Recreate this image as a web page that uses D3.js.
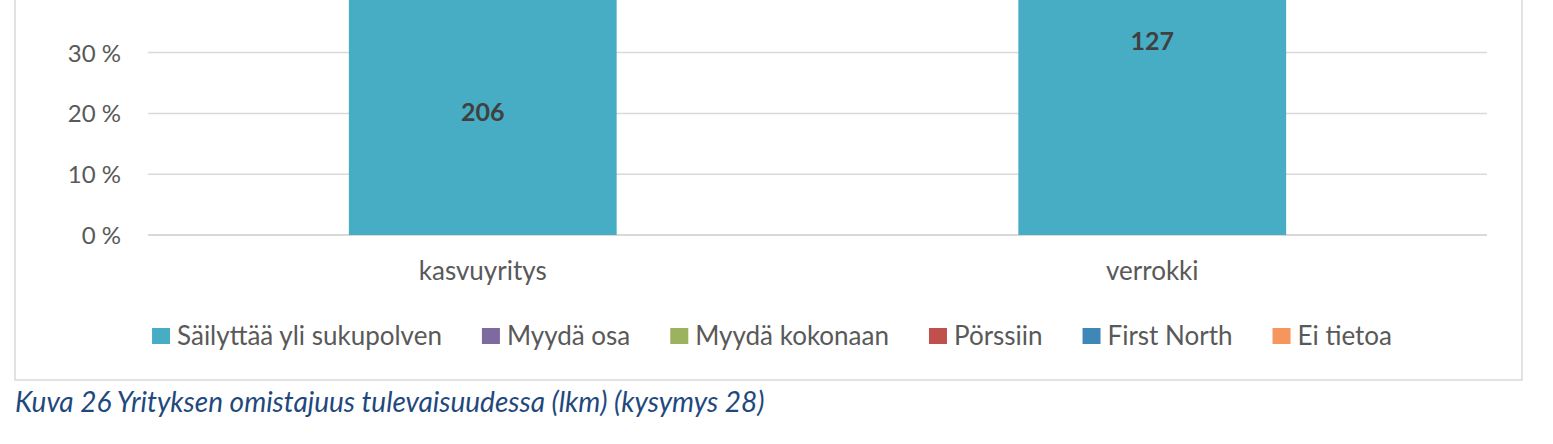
<!DOCTYPE html>
<html><head><meta charset="utf-8">
<script src="https://cdn.jsdelivr.net/npm/d3@7"></script>
<style>
html,body{margin:0;padding:0;background:#fff;}
svg{display:block;}
text{font-family:"Lato","Open Sans",sans-serif;}
</style></head>
<body>
<svg id="c" width="1553" height="444"></svg>
<script>
const categories = ["kasvuyritys", "verrokki"];
const seriesNames = ["Säilyttää yli sukupolven", "Myydä osa", "Myydä kokonaan", "Pörssiin", "First North", "Ei tietoa"];
const seriesColors = ["#46ADC4", "#7F6AA0", "#9BB25F", "#C0504D", "#3F87B6", "#F7955E"];
// counts (lkm); only the first series is visible in the cropped picture
const sailyttaa = [206, 127];
const myydaOsa = [118, 24];
const myydaKokonaan = [96, 31];
const porssiin = [22, 3];
const firstNorth = [27, 3];
const eiTietoa = [40, 11];
const yTicks = [0, 0.1, 0.2, 0.3, 0.4, 0.5, 0.6, 0.7, 0.8, 0.9, 1];
const caption = "Kuva 26 Yrityksen omistajuus tulevaisuudessa (lkm) (kysymys 28)";

const seriesValues = [sailyttaa, myydaOsa, myydaKokonaan, porssiin, firstNorth, eiTietoa];
const rows = categories.map((c, i) => {
  const r = {cat: c};
  seriesNames.forEach((s, j) => r[s] = seriesValues[j][i]);
  return r;
});
const stack = d3.stack().keys(seriesNames).offset(d3.stackOffsetExpand);
const layers = stack(rows);

const svg = d3.select("#c");
const plotL = 148, plotR = 1487, y0 = 235, per10 = 60.8;

// chart frame
svg.append("path").attr("d", `M15,-10 V380 H1522 V-10`).attr("fill", "none")
  .attr("stroke", "#D9D9D9").attr("stroke-width", 1.5);

const x = d3.scaleBand().domain(categories).range([plotL, plotR]).paddingInner(0.6).paddingOuter(0.3);
const y = d3.scaleLinear().domain([0, 1]).range([y0, y0 - per10 * 10]);
const inView = v => y(v) > 15;

// gridlines
svg.append("g").selectAll("line").data(yTicks).join("line")
  .attr("x1", plotL).attr("x2", plotR)
  .attr("y1", d => y(d)).attr("y2", d => y(d))
  .attr("stroke", "#D9D9D9").attr("stroke-width", d => d === 0 ? 2 : 1.5);

// y axis labels (only those inside the visible crop)
const yAxis = d3.axisLeft(y).tickValues(yTicks.filter(inView)).tickSize(0).tickPadding(0)
  .tickFormat(d => Math.round(d * 100) + " %");
const ya = svg.append("g").attr("transform", `translate(121,0)`).call(yAxis);
ya.select(".domain").remove();
ya.selectAll("text").attr("fill", "#595959").attr("font-size", 24).attr("dy", "0.35em")
  .attr("font-family", "Lato, sans-serif");

// bars
const gl = svg.append("g").selectAll("g").data(layers).join("g")
  .attr("fill", (d, i) => seriesColors[i]);
gl.selectAll("rect").data(d => d).join("rect")
  .attr("x", d => x(d.data.cat)).attr("width", x.bandwidth())
  .attr("y", d => y(d[1])).attr("height", d => y(d[0]) - y(d[1]));

// data labels (only those inside the visible crop)
gl.selectAll("text")
  .data(d => d.map(p => ({p, key: d.key})).filter(o => inView((o.p[0] + o.p[1]) / 2)))
  .join("text")
  .attr("x", d => x(d.p.data.cat) + x.bandwidth() / 2)
  .attr("y", d => y((d.p[0] + d.p[1]) / 2))
  .attr("dy", "0.35em").attr("text-anchor", "middle")
  .attr("fill", "#404040").attr("font-weight", "bold").attr("font-size", 25)
  .text(d => d.p.data[d.key]);

// x axis labels
const xAxis = d3.axisBottom(x).tickSize(0).tickPadding(0);
const xa = svg.append("g").attr("transform", `translate(0,${y0})`).call(xAxis);
xa.select(".domain").remove();
xa.selectAll("text").attr("fill", "#595959").attr("font-size", 26).attr("dy", "0").attr("y", 45)
  .attr("font-family", "Lato, sans-serif");

// legend
const lg = svg.append("g");
const items = lg.selectAll("g").data(seriesNames).join("g");
items.append("rect").attr("width", 18).attr("height", 16).attr("y", -8)
  .attr("fill", (d, i) => seriesColors[i]);
items.append("text").attr("x", 25).attr("dy", "0.35em").attr("font-size", 26)
  .attr("fill", "#595959").text(d => d);
let pos = 0;
const offs = [];
items.each(function() {
  const w = d3.select(this).select("text").node().getComputedTextLength();
  offs.push(pos);
  pos += 25 + w + 40;
});
const total = pos - 40;
const start = 772 - total / 2;
items.attr("transform", (d, i) => `translate(${start + offs[i]},336)`);

// caption
svg.append("text").attr("x", 15).attr("y", 412).attr("font-size", 28)
  .attr("font-style", "italic").attr("fill", "#1F497D").text(caption);
</script>
</body></html>
